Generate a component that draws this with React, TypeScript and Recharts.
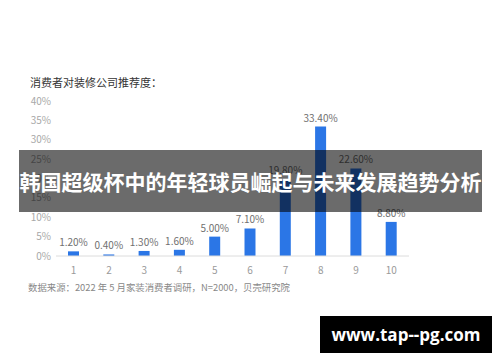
import React from 'react';
import { BarChart, Bar, XAxis, YAxis, LabelList } from 'recharts';

const categories = ['1', '2', '3', '4', '5', '6', '7', '8', '9', '10'];
const values = [1.2, 0.4, 1.3, 1.6, 5.0, 7.1, 19.8, 33.4, 22.6, 8.8];
const yTicks = [0, 5, 10, 15, 20, 25, 30, 35, 40];
const titleText = '消费者对装修公司推荐度：';
const sourceText = '数据来源：2022 年 5 月家装消费者调研，N=2000，贝壳研究院';
const bannerText = '韩国超级杯中的年轻球员崛起与未来发展趋势分析';
const watermarkText = 'www.tap--pg.com';

const data = categories.map((c, i) => ({ name: c, value: values[i] }));

const font = '"Noto Sans CJK SC", "Noto Sans", sans-serif';

export default function App() {
  return (
    <div style={{ position: 'absolute', left: 0, top: 0, width: 500, height: 362, background: '#fff', overflow: 'hidden', fontFamily: font }}>
      <BarChart
        width={500}
        height={362}
        data={data}
        margin={{ top: 101, right: 91, bottom: 76, left: 16 }}
        barCategoryGap={0}
      >
        <XAxis
          dataKey="name"
          axisLine={{ stroke: '#dcdcdc' }}
          tickLine={false}
          tick={{ fill: '#9a9a9a', fontSize: 10, fontFamily: font }}
          tickMargin={5}
          height={30}
          interval={0}
        />
        <YAxis
          domain={[0, 40]}
          ticks={yTicks}
          interval={0}
          tickFormatter={(v: number) => `${v}%`}
          axisLine={false}
          tickLine={false}
          tickSize={0}
          tickMargin={5}
          width={40}
          tick={{ fill: '#a8a8a8', fontSize: 10, fontFamily: font }}
        />
        <Bar dataKey="value" fill="#2b76e6" barSize={11} isAnimationActive={false}>
          <LabelList
            dataKey="value"
            position="top"
            offset={5}
            formatter={(v: any) => `${Number(v).toFixed(2)}%`}
            style={{ fill: '#707070', fontSize: 10, fontFamily: font }}
          />
        </Bar>
      </BarChart>
      <div style={{ position: 'absolute', left: 30, top: 74, fontSize: 11, color: '#333', whiteSpace: 'nowrap', lineHeight: '16px' }}>
        {titleText}
      </div>
      <div style={{ position: 'absolute', left: 28, top: 280, fontSize: 9.4, color: '#888', whiteSpace: 'nowrap', lineHeight: '14px' }}>
        {sourceText}
      </div>
      <div style={{ position: 'absolute', left: 19, top: 150, width: 463, height: 62, background: 'rgba(0,0,0,0.58)', display: 'flex', alignItems: 'center', justifyContent: 'center' }}>
        <span style={{ color: '#fff', fontSize: 21, fontWeight: 'bold', whiteSpace: 'nowrap', letterSpacing: 0 }}>{bannerText}</span>
      </div>
      <div style={{ position: 'absolute', left: 320, top: 316, width: 172, height: 37, background: '#000', display: 'flex', alignItems: 'center', justifyContent: 'center' }}>
        <span style={{ color: '#fff', fontSize: 17, fontWeight: 'bold', whiteSpace: 'nowrap', fontFamily: '"Open Sans", "DejaVu Sans", sans-serif' }}>{watermarkText}</span>
      </div>
    </div>
  );
}
